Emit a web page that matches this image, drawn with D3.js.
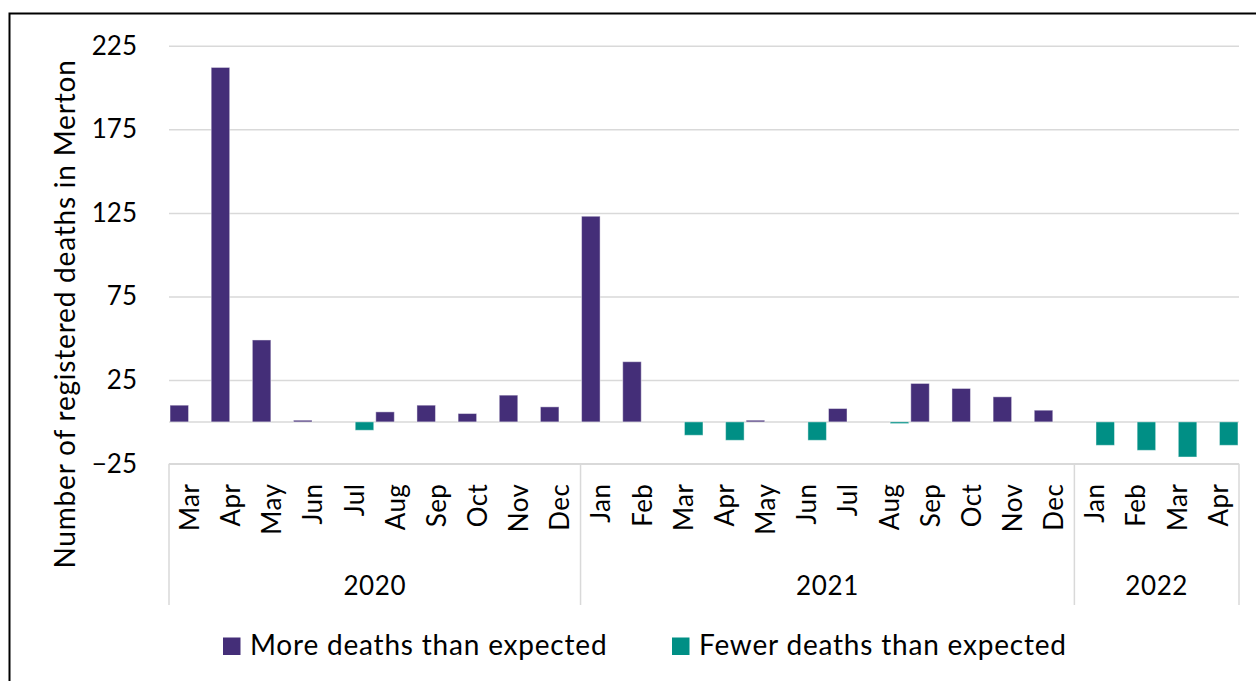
<!DOCTYPE html>
<html>
<head>
<meta charset="utf-8">
<script src="https://cdn.jsdelivr.net/npm/d3@7/dist/d3.min.js"></script>
<style>
  html, body { margin: 0; padding: 0; background: #fff; }
  svg { display: block; font-family: Lato, "Open Sans", sans-serif; }
</style>
</head>
<body>
<svg id="chart" width="1256" height="681"></svg>
<script>
// Monthly excess deaths registered in Merton, Mar 2020 – Apr 2022
const months = ["Mar","Apr","May","Jun","Jul","Aug","Sep","Oct","Nov","Dec",
                "Jan","Feb","Mar","Apr","May","Jun","Jul","Aug","Sep","Oct","Nov","Dec",
                "Jan","Feb","Mar","Apr"];
const years = ["2020","2021","2022"];
const monthsPerYear = [10, 12, 4];
const moreDeaths  = [10, 212, 49, 1, null, 6, 10, 5, 16, 9,
                     123, 36, null, null, 1, null, 8, null, 23, 20, 15, 7,
                     null, null, null, null];
const fewerDeaths = [null, null, null, null, -5, null, null, null, null, null,
                     null, null, -8, -11, null, -11, null, -1, null, null, null, null,
                     -14, -17, -21, -14];
const yTicks = [-25, 25, 75, 125, 175, 225];
const seriesNames = ["More deaths than expected", "Fewer deaths than expected"];
const seriesColors = ["#442E78", "#008F85"];

const svg = d3.select("#chart");
const fontSize = 26;
const bigFont = 28;
const bigSpacing = 0.8;

// outer frame
svg.append("rect")
  .attr("x", 9.5).attr("y", 13.5)
  .attr("width", 1260).attr("height", 700)
  .attr("fill", "none").attr("stroke", "#000").attr("stroke-width", 2);

const plot = { left: 169, right: 1239, top: 45.7, bottom: 463.7 };

// build year-month keys for the band scale
const yearOf = [];
years.forEach((yr, i) => { for (let k = 0; k < monthsPerYear[i]; k++) yearOf.push(yr); });
const keys = months.map((m, i) => yearOf[i] + "-" + m);

const x = d3.scaleBand().domain(keys).range([plot.left, plot.right]).padding(0);
const xs = d3.scaleBand().domain([0, 1]).range([0, x.bandwidth()])
  .paddingInner(0.1).paddingOuter(0.05);
const y = d3.scaleLinear().domain([-25, 225]).range([plot.bottom, plot.top]);

// gridlines + value labels
const yAxis = svg.append("g")
  .attr("transform", `translate(${plot.left},0)`)
  .call(d3.axisLeft(y).tickValues(yTicks).tickFormat(d3.format("d"))
        .tickSize(-(plot.right - plot.left)).tickPadding(32));
yAxis.select(".domain").remove();
yAxis.selectAll(".tick line").attr("stroke", "#d9d9d9").attr("stroke-width", 1.5);
yAxis.selectAll(".tick text")
  .attr("font-size", fontSize).attr("fill", "#000")
  .attr("font-family", "Lato, sans-serif");

// zero line
svg.append("line")
  .attr("x1", plot.left).attr("x2", plot.right)
  .attr("y1", y(0)).attr("y2", y(0))
  .attr("stroke", "#d9d9d9").attr("stroke-width", 1.5);

// bars
const seriesData = [moreDeaths, fewerDeaths];
seriesData.forEach((vals, si) => {
  svg.append("g")
    .selectAll("rect")
    .data(vals.map((v, i) => ({ v, i })).filter(d => d.v !== null))
    .join("rect")
    .attr("x", d => x(keys[d.i]) + xs(si))
    .attr("width", xs.bandwidth())
    .attr("y", d => y(Math.max(0, d.v)))
    .attr("height", d => Math.abs(y(d.v) - y(0)))
    .attr("fill", seriesColors[si])
    .attr("stroke", "rgba(255,255,255,0.45)")
    .attr("stroke-width", 1);
});

// month labels
const xAxis = svg.append("g")
  .attr("transform", `translate(0,${plot.bottom})`)
  .call(d3.axisBottom(x).tickSize(0).tickFormat((d, i) => months[i]));
xAxis.select(".domain").remove();
xAxis.selectAll(".tick text")
  .attr("font-size", fontSize).attr("fill", "#000")
  .attr("font-family", "Lato, sans-serif")
  .attr("letter-spacing", 0.4)
  .attr("transform", "rotate(-90)")
  .attr("text-anchor", "end")
  .attr("x", -20).attr("y", 0).attr("dy", "0.36em");

// category axis frame: top line and year separators
const axisColor = "#d9d9d9";
svg.append("line")
  .attr("x1", plot.left).attr("x2", plot.right)
  .attr("y1", plot.bottom).attr("y2", plot.bottom)
  .attr("stroke", axisColor).attr("stroke-width", 1.5);

let start = 0;
const bounds = [];
monthsPerYear.forEach((n, i) => {
  const x0 = x(keys[start]);
  const x1 = x(keys[start + n - 1]) + x.bandwidth();
  bounds.push({ year: years[i], x0, x1 });
  start += n;
});
const sepX = [bounds[0].x0, ...bounds.map(b => b.x1)];
svg.append("g").selectAll("line")
  .data(sepX).join("line")
  .attr("x1", d => d).attr("x2", d => d)
  .attr("y1", plot.bottom).attr("y2", 605)
  .attr("stroke", axisColor).attr("stroke-width", 1.5);

svg.append("g").selectAll("text")
  .data(bounds).join("text")
  .attr("x", d => (d.x0 + d.x1) / 2)
  .attr("y", 595)
  .attr("text-anchor", "middle")
  .attr("font-size", fontSize)
  .attr("letter-spacing", 0.6)
  .text(d => d.year);

// axis title
svg.append("text")
  .attr("transform", "translate(65,314) rotate(-90)")
  .attr("text-anchor", "middle")
  .attr("dy", "0.35em")
  .attr("font-size", bigFont)
  .attr("letter-spacing", bigSpacing)
  .text("Number of registered deaths in Merton");

// legend
const legendX = [223, 672];
const legend = svg.append("g");
seriesNames.forEach((name, i) => {
  legend.append("rect")
    .attr("x", legendX[i]).attr("y", 637.5)
    .attr("width", 17.5).attr("height", 17.5)
    .attr("fill", seriesColors[i]);
  legend.append("text")
    .attr("x", legendX[i] + 27).attr("y", 655)
    .attr("font-size", bigFont)
    .attr("letter-spacing", bigSpacing)
    .text(name);
});
</script>
</body>
</html>
